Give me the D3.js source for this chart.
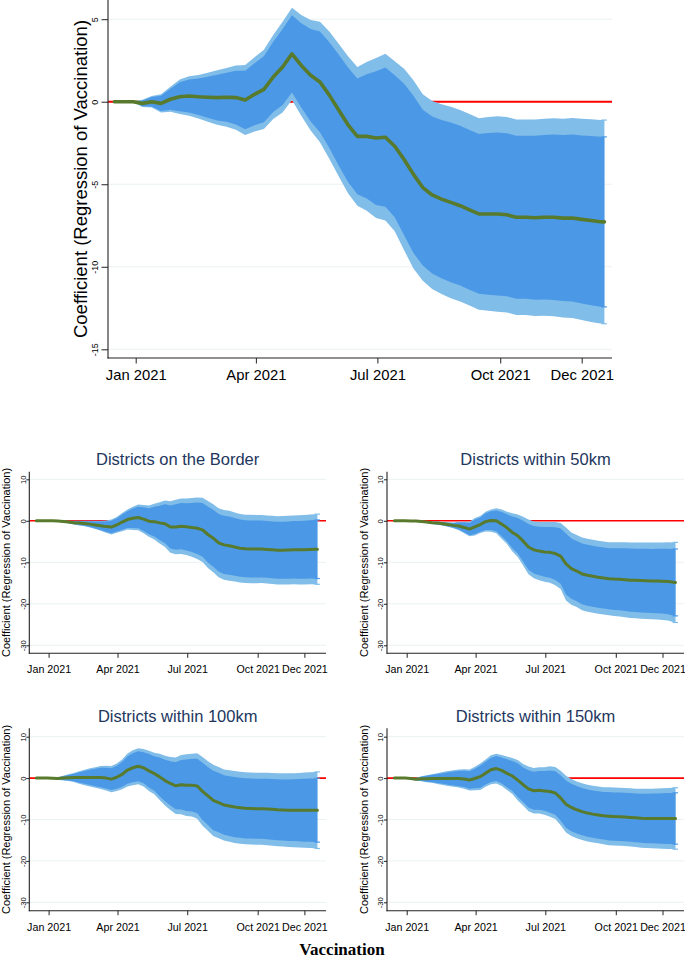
<!DOCTYPE html>
<html lang="en">
<head>
<meta charset="UTF-8">
<title>Coefficient (Regression of Vaccination)</title>
<script src="https://d3js.org/d3.v7.min.js"></script>
<style>
  html, body { margin: 0; padding: 0; background: #fff; }
  svg { display: block; font-family: "Liberation Sans", Arial, sans-serif; }
</style>
</head>
<body>
<svg width="685" height="958"></svg>
<script>
// weekly estimates (coefficient and half-width of 95% / 90% CI)
const dates = [
  "2020-12-16","2020-12-23","2020-12-30","2021-01-06","2021-01-13","2021-01-20","2021-01-27",
  "2021-02-03","2021-02-10","2021-02-17","2021-02-24","2021-03-03","2021-03-10","2021-03-17",
  "2021-03-24","2021-03-31","2021-04-07","2021-04-14","2021-04-21","2021-04-28","2021-05-05",
  "2021-05-12","2021-05-19","2021-05-26","2021-06-02","2021-06-09","2021-06-16","2021-06-23",
  "2021-06-30","2021-07-07","2021-07-14","2021-07-21","2021-07-28","2021-08-04","2021-08-11",
  "2021-08-18","2021-08-25","2021-09-01","2021-09-08","2021-09-15","2021-09-22","2021-09-29",
  "2021-10-06","2021-10-13","2021-10-20","2021-10-27","2021-11-03","2021-11-10","2021-11-17",
  "2021-11-24","2021-12-01","2021-12-08","2021-12-15","2021-12-18"
];

const mainCoef = [0, 0, 0, -0.1, 0, -0.1, 0.15, 0.3, 0.35, 0.3, 0.27, 0.25, 0.27, 0.25, 0.1, 0.45, 0.75, 1.5, 2.1, 2.9, 2.2, 1.6, 1.2, 0.4, -0.5, -1.4, -2.1, -2.1, -2.2, -2.15, -2.7, -3.5, -4.4, -5.2, -5.65, -5.9, -6.1, -6.3, -6.55, -6.8, -6.8, -6.8, -6.85, -7.0, -7.0, -7.03, -7.0, -7.0, -7.05, -7.05, -7.13, -7.2, -7.27, -7.28];
const mainHalf95 = [0, 0, 0.02, 0.22, 0.35, 0.55, 0.75, 1.05, 1.2, 1.32, 1.48, 1.65, 1.78, 1.95, 2.12, 2.25, 2.4, 2.55, 2.75, 2.8, 3.05, 3.35, 3.65, 3.85, 4.02, 4.15, 4.2, 4.5, 4.85, 5.05, 5.15, 5.5, 5.7, 5.65, 5.7, 5.75, 5.8, 5.8, 5.8, 5.8, 5.87, 5.92, 5.92, 5.92, 5.92, 5.95, 5.97, 6.0, 6.02, 6.06, 6.1, 6.14, 6.17, 6.17];
const mainHalf90 = [0, 0, 0.02, 0.18, 0.29, 0.46, 0.63, 0.88, 1.0, 1.1, 1.24, 1.38, 1.49, 1.63, 1.77, 1.88, 2.0, 2.13, 2.3, 2.34, 2.55, 2.8, 3.05, 3.21, 3.36, 3.47, 3.51, 3.76, 4.05, 4.22, 4.3, 4.59, 4.76, 4.72, 4.76, 4.8, 4.84, 4.84, 4.84, 4.84, 4.9, 4.94, 4.94, 4.94, 4.94, 4.97, 4.98, 5.01, 5.03, 5.06, 5.09, 5.13, 5.15, 5.15];

const borderCoef = [0, 0, 0, 0, -0.05, -0.15, -0.3, -0.45, -0.55, -0.65, -0.8, -1.0, -1.2, -1.4, -1.5, -1.0, -0.3, 0.3, 0.6, 0.8, 0.4, -0.1, -0.2, -0.5, -0.7, -1.5, -1.5, -1.3, -1.45, -1.6, -1.8, -2.2, -3.3, -4.2, -5.3, -5.8, -6.0, -6.3, -6.6, -6.75, -6.8, -6.8, -6.8, -6.9, -7.0, -7.1, -7.1, -7.05, -7.0, -7.0, -6.95, -6.9, -6.85, -6.85];
const borderHalf95 = [0, 0, 0, 0.065, 0.15, 0.22, 0.32, 0.45, 0.57, 0.67, 0.8, 1.0, 1.22, 1.5, 1.8, 1.9, 2.2, 2.42, 2.8, 3.1, 3.4, 3.77, 4.3, 4.95, 5.6, 6.2, 6.55, 6.67, 6.82, 7.07, 7.42, 7.75, 8.05, 8.2, 8.3, 8.4, 8.42, 8.32, 8.25, 8.22, 8.25, 8.22, 8.2, 8.2, 8.2, 8.22, 8.25, 8.27, 8.3, 8.32, 8.37, 8.4, 8.42, 8.45];
const borderHalf90 = [0, 0, 0, 0.05, 0.13, 0.18, 0.27, 0.38, 0.48, 0.56, 0.67, 0.84, 1.02, 1.25, 1.5, 1.59, 1.84, 2.02, 2.34, 2.59, 2.84, 3.15, 3.59, 4.13, 4.68, 5.18, 5.47, 5.57, 5.69, 5.9, 6.2, 6.47, 6.72, 6.85, 6.93, 7.01, 7.03, 6.95, 6.89, 6.86, 6.89, 6.86, 6.85, 6.85, 6.85, 6.86, 6.89, 6.91, 6.93, 6.95, 6.99, 7.01, 7.03, 7.06];

const km50Coef = [0, 0, 0, -0.02, -0.05, -0.15, -0.3, -0.45, -0.55, -0.7, -0.9, -1.1, -1.25, -1.6, -2.0, -1.45, -0.9, -0.2, 0.05, 0.0, -0.8, -1.7, -2.8, -3.6, -4.9, -6.3, -7.0, -7.3, -7.5, -7.6, -7.9, -8.5, -10.4, -11.5, -12.1, -12.8, -13.1, -13.35, -13.6, -13.8, -13.95, -14.05, -14.1, -14.2, -14.3, -14.35, -14.4, -14.45, -14.5, -14.5, -14.55, -14.6, -14.8, -14.85];
const km50Half95 = [0, 0, 0.02, 0.05, 0.1, 0.15, 0.22, 0.3, 0.38, 0.45, 0.55, 0.7, 1.0, 1.4, 1.75, 2.1, 2.05, 2.4, 2.7, 3.0, 3.5, 3.9, 4.6, 5.1, 5.9, 6.6, 6.85, 7.0, 7.2, 7.3, 7.6, 7.95, 8.8, 8.7, 8.7, 8.75, 8.8, 8.8, 8.8, 8.8, 8.8, 8.9, 8.95, 9.05, 9.1, 9.15, 9.2, 9.22, 9.25, 9.3, 9.35, 9.45, 9.6, 9.65];
const km50Half90 = [0, 0, 0.02, 0.04, 0.08, 0.13, 0.18, 0.25, 0.32, 0.38, 0.46, 0.58, 0.84, 1.17, 1.46, 1.75, 1.71, 2.0, 2.25, 2.5, 2.92, 3.26, 3.84, 4.26, 4.93, 5.51, 5.72, 5.85, 6.01, 6.1, 6.35, 6.64, 7.35, 7.26, 7.26, 7.31, 7.35, 7.35, 7.35, 7.35, 7.35, 7.43, 7.47, 7.56, 7.6, 7.64, 7.68, 7.7, 7.72, 7.77, 7.81, 7.89, 8.02, 8.06];

const km100Coef = [0, 0, 0, -0.05, -0.1, 0.0, 0.1, 0.15, 0.15, 0.15, 0.15, 0.15, 0.15, 0.0, -0.25, 0.2, 0.9, 1.95, 2.5, 2.85, 2.5, 1.75, 1.1, 0.3, -0.6, -1.3, -1.85, -1.6, -1.7, -1.7, -1.9, -3.2, -4.3, -5.4, -5.9, -6.5, -6.75, -7.0, -7.15, -7.3, -7.35, -7.4, -7.4, -7.45, -7.55, -7.65, -7.7, -7.75, -7.75, -7.75, -7.75, -7.75, -7.75, -7.75];
const km100Half95 = [0, 0, 0.02, 0.1, 0.3, 0.55, 0.8, 1.1, 1.5, 1.85, 2.2, 2.5, 2.8, 3.0, 3.15, 3.3, 3.6, 4.0, 4.2, 4.35, 4.5, 4.85, 5.0, 5.6, 6.0, 6.4, 6.8, 7.15, 7.45, 7.6, 7.9, 8.3, 8.4, 8.6, 8.6, 8.6, 8.65, 8.7, 8.7, 8.7, 8.7, 8.7, 8.7, 8.75, 8.8, 8.8, 8.85, 8.9, 8.95, 9.0, 9.1, 9.15, 9.2, 9.25];
const km100Half90 = [0, 0, 0.02, 0.08, 0.25, 0.46, 0.67, 0.92, 1.25, 1.54, 1.84, 2.09, 2.34, 2.5, 2.63, 2.76, 3.0, 3.34, 3.51, 3.63, 3.76, 4.05, 4.18, 4.68, 5.01, 5.34, 5.68, 5.97, 6.22, 6.35, 6.6, 6.93, 7.01, 7.18, 7.18, 7.18, 7.22, 7.26, 7.26, 7.26, 7.26, 7.26, 7.26, 7.31, 7.35, 7.35, 7.39, 7.43, 7.47, 7.52, 7.6, 7.64, 7.68, 7.72];

const km150Coef = [0, 0, 0, -0.1, -0.25, -0.15, -0.15, -0.1, -0.1, -0.1, -0.1, -0.1, -0.1, -0.2, -0.45, -0.1, 0.35, 1.2, 2.0, 2.3, 1.85, 1.15, 0.5, -0.5, -1.6, -2.6, -3.05, -2.95, -3.1, -3.25, -3.6, -4.8, -6.3, -7.1, -7.65, -8.1, -8.45, -8.7, -8.9, -9.1, -9.2, -9.3, -9.35, -9.4, -9.5, -9.6, -9.7, -9.75, -9.75, -9.75, -9.75, -9.75, -9.75, -9.75];
const km150Half95 = [0, 0, 0.02, 0.1, 0.3, 0.6, 0.85, 1.05, 1.3, 1.55, 1.8, 2.0, 2.2, 2.35, 2.55, 2.85, 3.2, 3.3, 3.5, 3.6, 3.75, 4.05, 4.35, 4.9, 5.0, 5.4, 5.5, 5.6, 5.75, 6.1, 6.3, 6.6, 6.85, 6.9, 6.85, 6.85, 6.85, 6.85, 6.85, 6.9, 7.0, 7.0, 7.0, 7.0, 7.05, 7.05, 7.1, 7.15, 7.2, 7.25, 7.3, 7.35, 7.4, 7.42];
const km150Half90 = [0, 0, 0.02, 0.08, 0.25, 0.5, 0.71, 0.88, 1.09, 1.29, 1.5, 1.67, 1.84, 1.96, 2.13, 2.38, 2.67, 2.76, 2.92, 3.01, 3.13, 3.38, 3.63, 4.09, 4.18, 4.51, 4.59, 4.68, 4.8, 5.09, 5.26, 5.51, 5.72, 5.76, 5.72, 5.72, 5.72, 5.72, 5.72, 5.76, 5.85, 5.85, 5.85, 5.85, 5.89, 5.89, 5.93, 5.97, 6.01, 6.05, 6.1, 6.14, 6.18, 6.2];

const tickDates = ["2021-01-01", "2021-04-01", "2021-07-01", "2021-10-01", "2021-12-01"];
const tickLabels = ["Jan 2021", "Apr 2021", "Jul 2021", "Oct 2021", "Dec 2021"];
const mainYTicks = [-15, -10, -5, 0, 5];
const smallYTicks = [-30, -20, -10, 0, 10];
const yTitle = "Coefficient (Regression of Vaccination)";
const xTitle = "Vaccination";

const colors = {
  ci95: "#80bde9",
  ci90: "#4b98e6",
  coef: "#587a2c",
  zero: "#ff0000",
  grid: "#eaf2f3",
  axis: "#222",
  title: "#22365e"
};

const parse = d3.timeParse("%Y-%m-%d");
const svg = d3.select("svg");

const mainPanel = {
  coef: mainCoef, h95: mainHalf95, h90: mainHalf90, title: null,
  xJan: 135.7, xDec: 581.7, left: 108, right: 612, top: 0, bottom: 358,
  yTicks: mainYTicks, yLo: 349.3, yHi: 19.2,
  yTickLen: 6.5, yLabelGap: 10.3, yLabelSize: 9,
  xTickLen: 5.5, xLabelOffset: 22, xLabelSize: 14.8,
  lineWidth: 3.6, yTitleX: 87, yTitleSize: 18.5
};

const smallRows = [
  { top: 471.7, bottom: 653.3, yLo: 645.3, yHi: 479.3, titleY: 465 },
  { top: 728.3, bottom: 910.7, yLo: 902.3, yHi: 736.7, titleY: 722 }
];
const smallCols = [
  { xJan: 48.6, xDec: 304.4, left: 29.3, right: 326, yTitleX: 10 },
  { xJan: 406.7, xDec: 662.5, left: 387, right: 684, yTitleX: 368 }
];
const smallSeries = [
  { title: "Districts on the Border", coef: borderCoef, h95: borderHalf95, h90: borderHalf90 },
  { title: "Districts within 50km", coef: km50Coef, h95: km50Half95, h90: km50Half90 },
  { title: "Districts within 100km", coef: km100Coef, h95: km100Half95, h90: km100Half90 },
  { title: "Districts within 150km", coef: km150Coef, h95: km150Half95, h90: km150Half90 }
];

function drawPanel(p) {
  const g = svg.append("g");
  const x = d3.scaleTime()
    .domain([parse(tickDates[0]), parse(tickDates[tickDates.length - 1])])
    .range([p.xJan, p.xDec]);
  const y = d3.scaleLinear()
    .domain([p.yTicks[0], p.yTicks[p.yTicks.length - 1]])
    .range([p.yLo, p.yHi]);

  const rows = dates.map((d, i) => ({ date: parse(d), c: p.coef[i], h95: p.h95[i], h90: p.h90[i] }));

  // grid
  g.selectAll(".grid").data(p.yTicks).enter().append("line")
    .attr("x1", p.left).attr("x2", p.right)
    .attr("y1", d => y(d)).attr("y2", d => y(d))
    .attr("stroke", colors.grid).attr("stroke-width", 1);

  // zero line
  g.append("line")
    .attr("x1", p.left).attr("x2", p.right)
    .attr("y1", y(0)).attr("y2", y(0))
    .attr("stroke", colors.zero).attr("stroke-width", p.title ? 1.6 : 2);

  const band = key => d3.area()
    .x(d => x(d.date))
    .y0(d => y(d.c - d[key]))
    .y1(d => y(d.c + d[key]));

  g.append("path").datum(rows).attr("d", band("h95")).attr("fill", colors.ci95);
  g.append("path").datum(rows).attr("d", band("h90")).attr("fill", colors.ci90);

  // caps at the last estimate
  const last = rows[rows.length - 1];
  const xl = x(last.date);
  [["h95", colors.ci95], ["h90", colors.ci90]].forEach(([k, col]) => {
    [last.c - last[k], last.c + last[k]].forEach(v => {
      g.append("line")
        .attr("x1", xl - 3).attr("x2", xl + 2.5)
        .attr("y1", y(v)).attr("y2", y(v))
        .attr("stroke", col).attr("stroke-width", 1.2);
    });
  });

  g.append("path").datum(rows)
    .attr("d", d3.line().x(d => x(d.date)).y(d => y(d.c)))
    .attr("fill", "none")
    .attr("stroke", colors.coef)
    .attr("stroke-width", p.lineWidth)
    .attr("stroke-linejoin", "round")
    .attr("stroke-linecap", "round");

  // axes
  const yAxis = g.append("g")
    .attr("transform", `translate(${p.left},0)`)
    .call(d3.axisLeft(y).tickValues(p.yTicks).tickSize(p.yTickLen).tickFormat(d => String(d)));
  yAxis.select(".domain").remove();
  yAxis.selectAll("line").attr("stroke", colors.axis);
  yAxis.selectAll("text")
    .attr("transform", "rotate(-90)")
    .attr("x", 0).attr("y", -p.yLabelGap).attr("dy", 0)
    .attr("text-anchor", "middle")
    .attr("fill", "#000")
    .style("font-size", p.yLabelSize + "px")
    .style("font-family", "'Liberation Sans', Arial, sans-serif");

  const xAxis = g.append("g")
    .attr("transform", `translate(0,${p.bottom})`)
    .call(d3.axisBottom(x).tickValues(tickDates.map(parse)).tickSize(p.xTickLen)
      .tickFormat((d, i) => tickLabels[i]));
  xAxis.select(".domain").remove();
  xAxis.selectAll("line").attr("stroke", colors.axis);
  xAxis.selectAll("text")
    .attr("y", p.xLabelOffset).attr("dy", 0)
    .attr("fill", "#000")
    .style("font-size", p.xLabelSize + "px")
    .style("font-family", "'Liberation Sans', Arial, sans-serif");

  g.append("line")
    .attr("x1", p.left).attr("x2", p.left)
    .attr("y1", p.top).attr("y2", p.bottom + 0.5)
    .attr("stroke", colors.axis).attr("stroke-width", 1.1);
  g.append("line")
    .attr("x1", p.left - 0.5).attr("x2", p.right)
    .attr("y1", p.bottom).attr("y2", p.bottom)
    .attr("stroke", colors.axis).attr("stroke-width", 1.1);

  // y title
  g.append("text")
    .attr("transform", `translate(${p.yTitleX},${(p.top + p.bottom) / 2}) rotate(-90)`)
    .attr("text-anchor", "middle")
    .attr("fill", "#000")
    .style("font-size", p.yTitleSize + "px")
    .text(yTitle);

  if (p.title) {
    g.append("text")
      .attr("x", (p.left + p.right) / 2)
      .attr("y", p.titleY)
      .attr("text-anchor", "middle")
      .attr("fill", colors.title)
      .style("font-size", "16.5px")
      .text(p.title);
  }
}

drawPanel(mainPanel);

smallSeries.forEach((s, i) => {
  const r = smallRows[Math.floor(i / 2)];
  const c = smallCols[i % 2];
  drawPanel(Object.assign({}, s, r, c, {
    yTicks: smallYTicks,
    yTickLen: 3, yLabelGap: 3.8, yLabelSize: 7.6,
    xTickLen: 4.5, xLabelOffset: 20, xLabelSize: 10.7,
    lineWidth: 3, yTitleSize: 11
  }));
});

svg.append("text")
  .attr("x", 342)
  .attr("y", 955)
  .attr("text-anchor", "middle")
  .style("font-family", "'Liberation Serif', 'DejaVu Serif', serif")
  .style("font-weight", "bold")
  .style("font-size", "17px")
  .text(xTitle);
</script>
</body>
</html>
